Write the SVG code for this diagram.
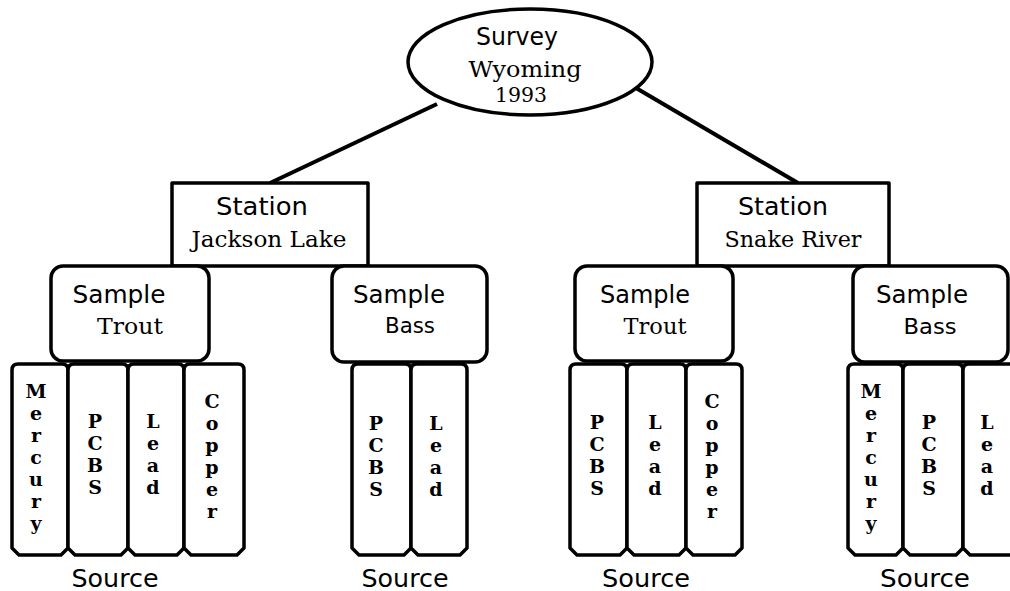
<svg xmlns="http://www.w3.org/2000/svg" width="1010" height="591" viewBox="0 0 1010 591">
<style>
.shape{fill:#fff;stroke:#000;stroke-width:3.5;stroke-linejoin:round}
.conn{stroke:#000;stroke-width:4;fill:none}
.sans{font-family:"DejaVu Sans","Liberation Sans",sans-serif;fill:#000;text-anchor:middle}
.serif{font-family:"DejaVu Serif","Liberation Serif",serif;fill:#000;text-anchor:middle}
.vert{font-family:"DejaVu Serif","Liberation Serif",serif;font-size:19px;font-weight:bold;fill:#000;text-anchor:middle}
.lbl{font-size:25px}
.sub{font-size:23px}
</style>
<rect width="1010" height="591" fill="#fff"/>
<g id="connectors">
<line class="conn" x1="437" y1="104" x2="270" y2="183"/>
<line class="conn" x1="636" y1="88" x2="798" y2="183"/>
</g>
<g id="survey">
<ellipse class="shape" cx="530" cy="62" rx="122" ry="53"/>
<text class="sans" x="517" y="45" font-size="24" textLength="82" lengthAdjust="spacingAndGlyphs">Survey</text>
<text class="serif" x="525" y="77" font-size="23" textLength="113" lengthAdjust="spacingAndGlyphs">Wyoming</text>
<text class="serif" x="521" y="102" font-size="21" textLength="52" lengthAdjust="spacingAndGlyphs">1993</text>
</g>
<g id="station-jackson">
<rect class="shape" x="172" y="183" width="196" height="83"/>
<text class="sans lbl" x="262" y="215" textLength="92" lengthAdjust="spacingAndGlyphs">Station</text>
<text class="serif sub" x="269" y="247" textLength="155" lengthAdjust="spacingAndGlyphs">Jackson Lake</text>
</g>
<g id="station-snake">
<rect class="shape" x="697" y="183" width="192" height="83"/>
<text class="sans lbl" x="783" y="215" textLength="90" lengthAdjust="spacingAndGlyphs">Station</text>
<text class="serif sub" x="793" y="247" textLength="137" lengthAdjust="spacingAndGlyphs">Snake River</text>
</g>
<g id="sample-jl-trout">
<rect class="shape" x="51" y="266" width="158" height="95" rx="12"/>
<text class="sans lbl" x="119" y="303" textLength="93" lengthAdjust="spacingAndGlyphs">Sample</text>
<text class="serif sub" x="130" y="334" textLength="66" lengthAdjust="spacingAndGlyphs">Trout</text>
</g>
<g id="sample-jl-bass">
<rect class="shape" x="332" y="266" width="155" height="96" rx="12"/>
<text class="sans lbl" x="399" y="303" textLength="92" lengthAdjust="spacingAndGlyphs">Sample</text>
<text class="sans" x="410" y="333" font-size="22" textLength="50" lengthAdjust="spacingAndGlyphs">Bass</text>
</g>
<g id="sample-sr-trout">
<rect class="shape" x="575" y="266" width="158" height="95" rx="12"/>
<text class="sans lbl" x="645" y="303" textLength="90" lengthAdjust="spacingAndGlyphs">Sample</text>
<text class="serif sub" x="655" y="334" textLength="63" lengthAdjust="spacingAndGlyphs">Trout</text>
</g>
<g id="sample-sr-bass">
<rect class="shape" x="853" y="266" width="155" height="96" rx="12"/>
<text class="sans lbl" x="922" y="303" textLength="92" lengthAdjust="spacingAndGlyphs">Sample</text>
<text class="sans" x="930" y="334" font-size="22" textLength="53" lengthAdjust="spacingAndGlyphs">Bass</text>
</g>
<g id="source-jl-trout">
<path class="shape" d="M12,370 Q12,364 18,364 L62,364 Q68,364 68,370 L68,548 L61,555 L19,555 L12,548 Z"/>
<path class="shape" d="M68,370 Q68,364 74,364 L122,364 Q128,364 128,370 L128,548 L121,555 L75,555 L68,548 Z"/>
<path class="shape" d="M128,370 Q128,364 134,364 L178,364 Q184,364 184,370 L184,548 L177,555 L135,555 L128,548 Z"/>
<path class="shape" d="M184,370 Q184,364 190,364 L238,364 Q244,364 244,370 L244,548 L237,555 L191,555 L184,548 Z"/>
<text class="vert" y="398"><tspan x="36">M</tspan><tspan x="36" dy="22">e</tspan><tspan x="36" dy="22">r</tspan><tspan x="36" dy="22">c</tspan><tspan x="36" dy="22">u</tspan><tspan x="36" dy="22">r</tspan><tspan x="36" dy="22">y</tspan></text>
<text class="vert" y="428"><tspan x="95">P</tspan><tspan x="95" dy="22">C</tspan><tspan x="95" dy="22">B</tspan><tspan x="95" dy="22">S</tspan></text>
<text class="vert" y="428"><tspan x="153">L</tspan><tspan x="153" dy="22">e</tspan><tspan x="153" dy="22">a</tspan><tspan x="153" dy="22">d</tspan></text>
<text class="vert" y="408"><tspan x="212">C</tspan><tspan x="212" dy="22">o</tspan><tspan x="212" dy="22">p</tspan><tspan x="212" dy="22">p</tspan><tspan x="212" dy="22">e</tspan><tspan x="212" dy="22">r</tspan></text>
<text class="sans" x="115" y="587" font-size="24" textLength="87" lengthAdjust="spacingAndGlyphs">Source</text>
</g>
<g id="source-jl-bass">
<path class="shape" d="M352,370 Q352,364 358,364 L405,364 Q411,364 411,370 L411,548 L404,555 L359,555 L352,548 Z"/>
<path class="shape" d="M411,370 Q411,364 417,364 L461,364 Q467,364 467,370 L467,548 L460,555 L418,555 L411,548 Z"/>
<text class="vert" y="430"><tspan x="376">P</tspan><tspan x="376" dy="22">C</tspan><tspan x="376" dy="22">B</tspan><tspan x="376" dy="22">S</tspan></text>
<text class="vert" y="430"><tspan x="436">L</tspan><tspan x="436" dy="22">e</tspan><tspan x="436" dy="22">a</tspan><tspan x="436" dy="22">d</tspan></text>
<text class="sans" x="405" y="587" font-size="24" textLength="87" lengthAdjust="spacingAndGlyphs">Source</text>
</g>
<g id="source-sr-trout">
<path class="shape" d="M570,370 Q570,364 576,364 L621,364 Q627,364 627,370 L627,548 L620,555 L577,555 L570,548 Z"/>
<path class="shape" d="M627,370 Q627,364 633,364 L680,364 Q686,364 686,370 L686,548 L679,555 L634,555 L627,548 Z"/>
<path class="shape" d="M686,370 Q686,364 692,364 L736,364 Q742,364 742,370 L742,548 L735,555 L693,555 L686,548 Z"/>
<text class="vert" y="429"><tspan x="597">P</tspan><tspan x="597" dy="22">C</tspan><tspan x="597" dy="22">B</tspan><tspan x="597" dy="22">S</tspan></text>
<text class="vert" y="429"><tspan x="655">L</tspan><tspan x="655" dy="22">e</tspan><tspan x="655" dy="22">a</tspan><tspan x="655" dy="22">d</tspan></text>
<text class="vert" y="408"><tspan x="712">C</tspan><tspan x="712" dy="22">o</tspan><tspan x="712" dy="22">p</tspan><tspan x="712" dy="22">p</tspan><tspan x="712" dy="22">e</tspan><tspan x="712" dy="22">r</tspan></text>
<text class="sans" x="646" y="587" font-size="24" textLength="88" lengthAdjust="spacingAndGlyphs">Source</text>
</g>
<g id="source-sr-bass">
<path class="shape" d="M848,370 Q848,364 854,364 L897,364 Q903,364 903,370 L903,548 L896,555 L855,555 L848,548 Z"/>
<path class="shape" d="M903,370 Q903,364 909,364 L957,364 Q963,364 963,370 L963,548 L956,555 L910,555 L903,548 Z"/>
<path class="shape" d="M963,370 Q963,364 969,364 L1016,364 Q1022,364 1022,370 L1022,548 L1015,555 L970,555 L963,548 Z"/>
<text class="vert" y="398"><tspan x="871">M</tspan><tspan x="871" dy="22">e</tspan><tspan x="871" dy="22">r</tspan><tspan x="871" dy="22">c</tspan><tspan x="871" dy="22">u</tspan><tspan x="871" dy="22">r</tspan><tspan x="871" dy="22">y</tspan></text>
<text class="vert" y="429"><tspan x="929">P</tspan><tspan x="929" dy="22">C</tspan><tspan x="929" dy="22">B</tspan><tspan x="929" dy="22">S</tspan></text>
<text class="vert" y="429"><tspan x="987">L</tspan><tspan x="987" dy="22">e</tspan><tspan x="987" dy="22">a</tspan><tspan x="987" dy="22">d</tspan></text>
<text class="sans" x="925" y="587" font-size="24" textLength="90" lengthAdjust="spacingAndGlyphs">Source</text>
</g>
</svg>
